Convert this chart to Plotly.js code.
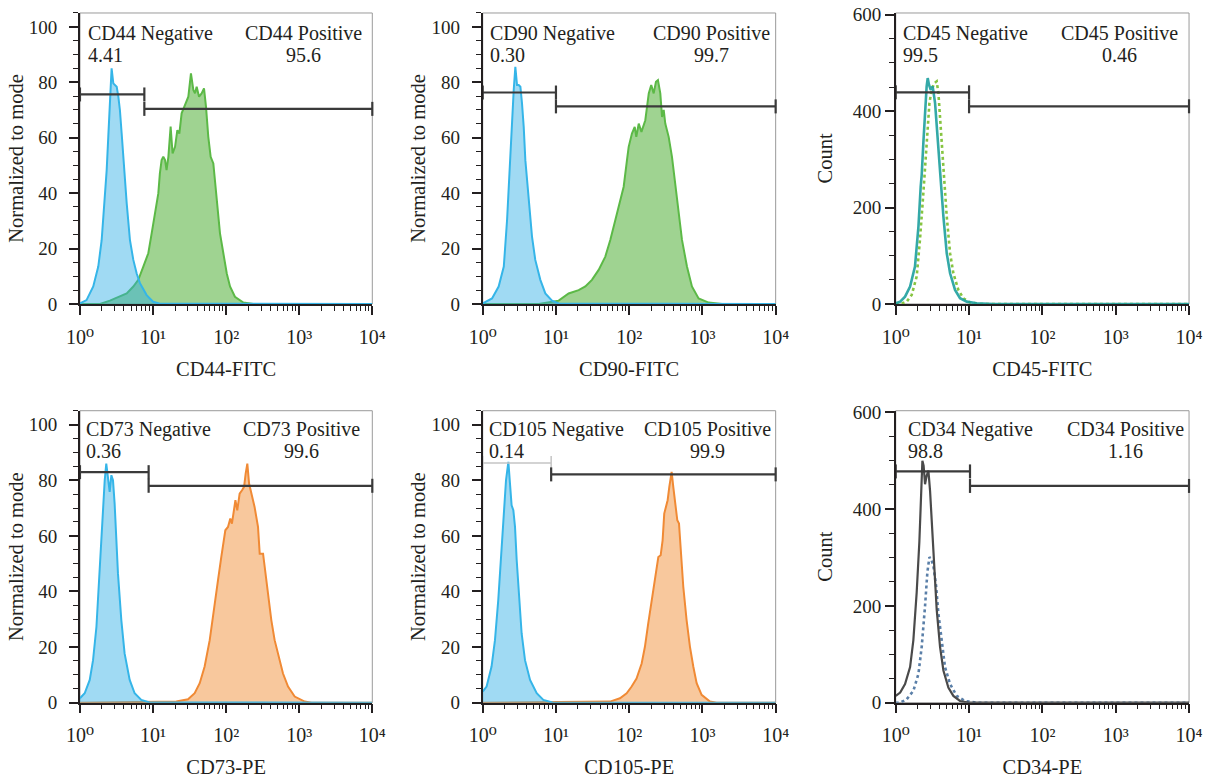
<!DOCTYPE html>
<html>
<head>
<meta charset="utf-8">
<script src="https://cdn.plot.ly/plotly-3.0.1.min.js"></script>
<style>
html,body{margin:0;padding:0;background:#fff;}
#chart{width:1208px;height:778px;}
</style>
</head>
<body>
<div id="chart"></div>
<script>
// ---------------- DATA ----------------
const markers   = ['CD44', 'CD90', 'CD45', 'CD73', 'CD105', 'CD34'];
const negPct    = ['4.41', '0.30', '99.5', '0.36', '0.14', '98.8'];
const posPct    = ['95.6', '99.7', '0.46', '99.6', '99.9', '1.16'];
const xTitles   = ['CD44-FITC', 'CD90-FITC', 'CD45-FITC', 'CD73-PE', 'CD105-PE', 'CD34-PE'];
const yTitles   = ['Normalized to mode', 'Normalized to mode', 'Count', 'Normalized to mode', 'Normalized to mode', 'Count'];
const decadeVals = [1, 10, 100, 1000, 10000];
const decadeText = ['10\u2070', '10\u00B9', '10\u00B2', '10\u00B3', '10\u2074'];

const gateSplit = [7.6, 10.0, 10.0, 8.7, 8.6, 10.3];
const gateNegY  = [75.6, 76.3, 439, 82.9, 86.2, 478];
const gatePosY  = [70.4, 71.3, 410, 78.0, 82.1, 448];

const cd44IsoX = [1, 1.23, 1.52, 1.78, 1.98, 2.20, 2.32, 2.44, 2.57, 2.71, 2.86, 3.01, 3.18, 3.35, 3.52, 3.72, 3.92, 4.36, 4.83, 5.37, 5.97, 6.62, 8.17, 10.0, 12.4, 10000];
const cd44IsoY = [0.2, 1.4, 6.3, 13.5, 23, 40, 48.3, 60.3, 74.8, 85, 79.6, 79, 78.4, 74.8, 70, 61.5, 52, 36.3, 23, 15.9, 11, 7.5, 3.2, 0.8, 0.1, 0];
const cd44X = [1, 1.88, 2.57, 3.52, 4.36, 5.37, 6.28, 7.36, 8.61, 9.57, 10.6, 11.8, 12.4, 13.1, 13.8, 14.6, 15.3, 16.2, 17.4, 18.5, 20.0, 21.5, 22.9, 24.6, 27.4, 30.4, 33.0, 35.6, 37.5, 39.5, 42.6, 46.2, 49.8, 53.0, 57.0, 61.4, 66.8, 74.1, 82.4, 91.6, 102, 113, 132, 172, 235, 10000];
const cd44Y = [0, 0, 1.2, 2.6, 3.8, 6.3, 8.7, 13.5, 18.3, 25.5, 32.7, 39.9, 47.1, 51.9, 53.1, 51.9, 48.3, 53.1, 64, 54.3, 56.7, 62.7, 61.5, 68.8, 71.8, 74.8, 83.2, 77.2, 76, 78.4, 74.8, 76, 77.8, 71.2, 60.3, 53.1, 50.7, 37.5, 25.5, 18.3, 11, 6.3, 2.6, 0.5, 0, 0];

const cd90IsoX = [1, 1.34, 1.65, 1.94, 2.15, 2.31, 2.46, 2.65, 2.79, 2.94, 3.10, 3.27, 3.44, 3.63, 3.82, 4.25, 4.71, 5.22, 6.12, 7.16, 8.83, 10.9, 10000];
const cd90IsoY = [0.2, 2.0, 6.3, 13.5, 30.3, 47.1, 61.5, 77.2, 85.6, 79, 79, 78.4, 72.4, 63.9, 51.9, 36.3, 24.3, 15.9, 8.7, 3.8, 1.2, 0.2, 0];
const cd90X = [1, 5.81, 10.9, 14.9, 20.4, 25.2, 31.0, 38.3, 47.2, 55.2, 64.7, 75.7, 84.1, 93.3, 98.4, 109, 119, 125, 135, 147, 166, 185, 200, 216, 232, 247, 266, 281, 296, 311, 346, 384, 427, 473, 526, 615, 719, 887, 1216, 1849, 10000];
const cd90Y = [0, 0, 1.2, 3.8, 5, 6.3, 8.7, 12.3, 17.1, 23.1, 30.3, 37.5, 42.3, 51.9, 56.7, 61.5, 63.9, 60.3, 65.1, 62.1, 66.3, 76, 79, 76, 80.2, 80.8, 76, 67.5, 70, 65.1, 60.3, 53.1, 42.3, 32.7, 23.1, 13.5, 6.3, 2.0, 0.5, 0, 0];

const cd45X = [1, 1.15, 1.34, 1.57, 1.83, 2.04, 2.19, 2.26, 2.38, 2.51, 2.64, 2.73, 2.84, 3.00, 3.19, 3.44, 3.70, 4.02, 4.47, 4.96, 5.51, 6.44, 7.53, 9.29, 12.7, 21.5, 10000];
const cd45Y = [1.4, 4.8, 15.2, 36, 77.5, 160.6, 243.6, 267.8, 333.6, 402.8, 451.2, 468.5, 454.7, 444.3, 451.2, 416.6, 347.4, 264.4, 181.3, 105.2, 63.7, 29.1, 11.8, 4.8, 1.4, 0, 0];
const cd45IsoX = [1, 1.15, 1.41, 1.65, 1.93, 2.14, 2.38, 2.64, 2.88, 3.09, 3.37, 3.62, 3.82, 4.10, 4.47, 4.96, 5.51, 6.11, 7.15, 8.36, 10.3, 14.1, 10000];
const cd45IsoY = [0, 0, 4.8, 18.7, 56.7, 132.9, 229.8, 333.6, 416.6, 444.3, 458.1, 461.6, 437.4, 368.2, 285.1, 181.3, 105.2, 63.7, 29.1, 11.8, 2.8, 0, 0];

const cd73IsoX = [1, 1.16, 1.36, 1.51, 1.68, 1.80, 1.96, 2.07, 2.18, 2.29, 2.42, 2.55, 2.69, 2.83, 2.98, 3.14, 3.31, 3.68, 4.08, 4.79, 5.60, 6.90, 8.97, 10000];
const cd73IsoY = [1.6, 3.4, 8.2, 15.3, 27.3, 41.7, 59.6, 69.2, 80, 86, 80, 75.8, 81.8, 80, 71.6, 59.6, 46.5, 29.7, 17.7, 8.2, 3.4, 1.0, 0.1, 0];
const cd73X = [1, 20.8, 30.1, 37.1, 43.5, 50.8, 59.6, 69.7, 77.4, 85.9, 92.5, 97.5, 106, 114, 120, 127, 134, 142, 153, 165, 176, 185, 195, 206, 221, 245, 273, 288, 320, 337, 374, 415, 461, 513, 600, 703, 867, 1189, 1466, 10000];
const cd73Y = [0, 0.4, 1.2, 3.4, 7.0, 13.0, 22.5, 34.5, 44.1, 52.4, 57.2, 62.0, 63.2, 66.2, 64.4, 69.2, 72.8, 69.2, 75.2, 76.4, 77.6, 82.4, 86, 78.8, 75.2, 70.4, 63.2, 53.6, 53.6, 48.9, 39.3, 29.7, 22.5, 17.7, 10.5, 5.8, 2.2, 0.4, 0, 0];

const cd105IsoX = [1, 1.13, 1.32, 1.47, 1.63, 1.76, 1.91, 2.08, 2.24, 2.36, 2.48, 2.62, 2.76, 2.91, 3.16, 3.40, 3.78, 4.43, 5.46, 6.73, 9.20, 10000];
const cd105IsoY = [4.0, 5.8, 13, 22.5, 36.9, 51.3, 68, 80, 86.6, 77.6, 71, 69.2, 63.2, 51.3, 36.9, 24.9, 15.3, 8.2, 3.4, 1.0, 0, 0];
const cd105X = [1, 54.7, 74.8, 92.3, 108, 126, 148, 164, 182, 203, 225, 250, 269, 286, 301, 318, 335, 353, 380, 400, 422, 454, 479, 509, 548, 608, 676, 750, 834, 975, 1268, 1563, 10000];
const cd105Y = [0, 0.4, 1.6, 3.4, 5.8, 8.7, 14.1, 20.1, 28.5, 36.9, 45.3, 52.4, 53, 58.4, 68, 70.4, 72.8, 77.6, 83, 77.6, 72.8, 65.6, 64.4, 53.6, 41.7, 29.7, 20.1, 13, 7.0, 2.8, 0.4, 0, 0];

const cd34X = [1, 1.15, 1.34, 1.57, 1.74, 1.93, 2.10, 2.21, 2.31, 2.40, 2.51, 2.64, 2.79, 2.94, 3.10, 3.33, 3.62, 4.02, 4.47, 5.22, 6.11, 7.53, 9.80, 10000];
const cd34Y = [14, 21, 38.6, 73.5, 129.5, 227.5, 332.5, 437.5, 500, 490, 451.5, 469, 479.5, 437.5, 367.5, 276.5, 192.5, 115.5, 66.5, 31.5, 14, 3.5, 0, 0];
const cd34IsoX = [1, 1.15, 1.41, 1.74, 2.04, 2.26, 2.51, 2.70, 2.88, 3.03, 3.26, 3.55, 3.81, 4.24, 4.70, 5.51, 6.79, 8.81, 12.7, 10000];
const cd34IsoY = [0, 0, 7, 24.5, 59.5, 115.5, 199.5, 269.5, 301, 297.5, 283.5, 241.5, 185.5, 122.5, 73.5, 38.5, 14, 3.5, 0, 0];

// ---------------- STYLE ----------------
const FONT = 'Liberation Serif, DejaVu Serif, serif';
const INK = '#231f20';
const BLUE_LINE = '#35b5e8', BLUE_FILL = 'rgba(45,172,228,0.45)';
const GREEN_LINE = '#5cb947', GREEN_FILL = 'rgba(80,175,55,0.55)';
const ORANGE_LINE = '#f08a35', ORANGE_FILL = 'rgba(242,146,60,0.5)';

const xDom = [[0.0662, 0.3082], [0.3996, 0.6421], [0.7415, 0.9843]];
const yDom = [[0.6093, 0.9833], [0.0968, 0.4721]];
const negLabelX = [0.020, 0.017, 0.017, 0.015, 0.016, 0.035];
const posLabelX = [0.763, 0.780, 0.764, 0.757, 0.768, 0.782];
const isCount = [false, false, true, false, false, true];

const minorVals = [];
[1, 10, 100, 1000].forEach(d => { for (let k = 2; k <= 9; k++) minorVals.push(k * d); });

function ax(i, s) { return i === 0 ? s : s + (i + 1); }

const traces = [];
function filled(i, x, y, line, fill) {
  traces.push({x: x, y: y, xaxis: ax(i, 'x'), yaxis: ax(i, 'y'), type: 'scatter', mode: 'lines',
    fill: 'tozeroy', fillcolor: fill, line: {color: line, width: 2}, hoverinfo: 'skip'});
}
function curve(i, x, y, color, width, dash) {
  traces.push({x: x, y: y, xaxis: ax(i, 'x'), yaxis: ax(i, 'y'), type: 'scatter', mode: 'lines',
    line: {color: color, width: width, dash: dash}, hoverinfo: 'skip'});
}

filled(0, cd44X, cd44Y, GREEN_LINE, GREEN_FILL);
filled(0, cd44IsoX, cd44IsoY, BLUE_LINE, BLUE_FILL);
filled(1, cd90X, cd90Y, GREEN_LINE, GREEN_FILL);
filled(1, cd90IsoX, cd90IsoY, BLUE_LINE, BLUE_FILL);
curve(2, cd45IsoX, cd45IsoY, '#86c440', 2.6, 'dot');
curve(2, cd45X, cd45Y, 'rgba(30,160,158,0.9)', 2.6, 'solid');
filled(3, cd73X, cd73Y, ORANGE_LINE, ORANGE_FILL);
filled(3, cd73IsoX, cd73IsoY, BLUE_LINE, BLUE_FILL);
filled(4, cd105X, cd105Y, ORANGE_LINE, ORANGE_FILL);
filled(4, cd105IsoX, cd105IsoY, BLUE_LINE, BLUE_FILL);
curve(5, cd34IsoX, cd34IsoY, '#5a7fa8', 2.6, 'dot');
curve(5, cd34X, cd34Y, '#4a4a4a', 2.2, 'solid');

for (let i = 0; i < 6; i++) {
  const negColor = i === 4 ? '#c4c4c4' : '#3a3a3a';
  const negW = i === 4 ? 1.5 : 2.2;
  traces.push({x: [1, gateSplit[i]], y: [gateNegY[i], gateNegY[i]], xaxis: ax(i, 'x'), yaxis: ax(i, 'y'),
    type: 'scatter', mode: 'lines+markers', cliponaxis: false, hoverinfo: 'skip',
    line: {color: negColor, width: negW},
    marker: {symbol: 'line-ns-open', size: 10, color: negColor, line: {color: negColor, width: negW}}});
  traces.push({x: [gateSplit[i], 10000], y: [gatePosY[i], gatePosY[i]], xaxis: ax(i, 'x'), yaxis: ax(i, 'y'),
    type: 'scatter', mode: 'lines+markers', cliponaxis: false, hoverinfo: 'skip',
    line: {color: '#3a3a3a', width: 2.2},
    marker: {symbol: 'line-ns-open', size: 10, color: '#3a3a3a', line: {color: '#3a3a3a', width: 2.2}}});
}

const layout = {
  width: 1208, height: 778,
  margin: {l: 0, r: 0, t: 0, b: 0},
  paper_bgcolor: '#ffffff', plot_bgcolor: 'rgba(0,0,0,0)',
  showlegend: false,
  font: {family: FONT, color: INK, size: 19},
  shapes: [], annotations: []
};

for (let i = 0; i < 6; i++) {
  const col = i % 3, row = Math.floor(i / 3);
  const xa = 'xaxis' + (i === 0 ? '' : i + 1);
  const ya = 'yaxis' + (i === 0 ? '' : i + 1);
  layout[xa] = {
    domain: xDom[col], anchor: ax(i, 'y'), type: 'log', range: [0, 4],
    tickmode: 'array', tickvals: decadeVals, ticktext: decadeText,
    ticks: 'outside', ticklen: 9, tickwidth: 1.5, tickcolor: INK,
    ticklabelstandoff: 5,
    showline: true, linecolor: INK, linewidth: 1.6, showgrid: false, zeroline: false,
    minor: {tickmode: 'array', tickvals: minorVals, ticks: 'outside', ticklen: 5, tickwidth: 1.2, tickcolor: INK, showgrid: false},
    tickfont: {family: FONT, size: 20, color: INK},
    title: {text: xTitles[i], font: {family: FONT, size: 20.5, color: INK}, standoff: 15}
  };
  layout[ya] = {
    domain: yDom[row], anchor: ax(i, 'x'),
    range: isCount[i] ? [0, 603.5] : [0, 105],
    tickmode: 'linear', tick0: 0, dtick: isCount[i] ? 200 : 20,
    ticks: 'outside', ticklen: 9, tickwidth: 1.5, tickcolor: INK,
    ticklabelstandoff: isCount[i] ? 0 : 8,
    showline: true, linecolor: INK, linewidth: 1.6, showgrid: false, zeroline: false,
    minor: {dtick: isCount[i] ? 50 : 5, tick0: 0, ticks: 'outside', ticklen: 5, tickwidth: 1.2, tickcolor: INK, showgrid: false},
    tickfont: {family: FONT, size: 19, color: INK},
    title: {text: yTitles[i], font: {family: FONT, size: 20.5, color: INK}, standoff: isCount[i] ? 14 : 0}
  };
  const xr = ax(i, 'x') + ' domain', yr = ax(i, 'y') + ' domain';
  layout.shapes.push({type: 'rect', xref: xr, yref: yr, x0: 0, x1: 1, y0: 0, y1: 1,
    line: {color: '#9a9a9a', width: 1}, layer: 'below'});
  const yTop = row === 0 ? 0.931 : 0.936;
  const yNum = row === 0 ? 0.856 : 0.862;
  const aFont = {family: FONT, size: 20, color: INK};
  layout.annotations.push(
    {text: markers[i] + ' Negative', xref: xr, yref: yr, x: negLabelX[i], y: yTop, xanchor: 'left', yanchor: 'middle', showarrow: false, font: aFont},
    {text: negPct[i], xref: xr, yref: yr, x: negLabelX[i], y: yNum, xanchor: 'left', yanchor: 'middle', showarrow: false, font: aFont},
    {text: markers[i] + ' Positive', xref: xr, yref: yr, x: posLabelX[i], y: yTop, xanchor: 'center', yanchor: 'middle', showarrow: false, font: aFont},
    {text: posPct[i], xref: xr, yref: yr, x: posLabelX[i], y: yNum, xanchor: 'center', yanchor: 'middle', showarrow: false, font: aFont}
  );
}

Plotly.newPlot('chart', traces, layout, {displayModeBar: false});
</script>
</body>
</html>
